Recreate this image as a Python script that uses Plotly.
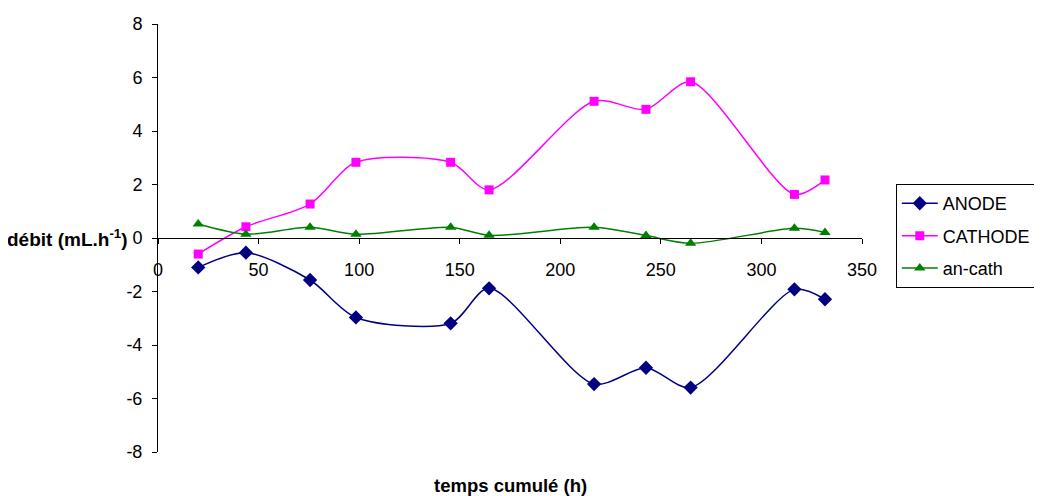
import plotly.graph_objects as go

temps = [20, 43.7, 75.6, 98.4, 145.5, 164.6, 216.8, 242.6, 264.8, 316.4, 331.6]
anode = [-1.10, -0.55, -1.57, -2.97, -3.19, -1.88, -5.46, -4.85, -5.59, -1.92, -2.29]
cathode = [-0.60, 0.42, 1.27, 2.83, 2.83, 1.80, 5.11, 4.81, 5.84, 1.63, 2.17]
an_cath = [0.52, 0.14, 0.40, 0.14, 0.40, 0.10, 0.40, 0.09, -0.20, 0.36, 0.21]

x_ticks = [0, 50, 100, 150, 200, 250, 300, 350]
y_ticks = [-8, -6, -4, -2, 0, 2, 4, 6, 8]

FONT = "Liberation Sans, Arial, sans-serif"

fig = go.Figure()
series = [
    ("ANODE", anode, "#000080", "diamond", 11),
    ("CATHODE", cathode, "#FF00FF", "square", 9),
    ("an-cath", an_cath, "#008000", "triangle-up", 10),
]
for name, vals, col, sym, ms in series:
    fig.add_trace(go.Scatter(
        x=temps, y=vals, name=name, legendgroup=name,
        mode="lines+markers",
        line=dict(color=col, width=1.5, shape="spline", smoothing=0.8),
        marker=dict(symbol=sym, size=ms, color=col),
    ))

# page body has an 8px margin, so the figure is offset by (8, 8)
fig.update_layout(
    width=1034, height=488,
    margin=dict(l=150, r=180, t=16, b=44, autoexpand=False),
    plot_bgcolor="white", paper_bgcolor="white",
    font=dict(family=FONT, size=18, color="black"),
    showlegend=True,
    legend=dict(
        x=1.048, y=0.626, xanchor="left", yanchor="top",
        bordercolor="black", borderwidth=1,
        font=dict(size=18), tracegroupgap=6, itemwidth=36,
        traceorder="grouped",
    ),
    xaxis=dict(
        range=[0, 350], tickvals=x_ticks, ticktext=[str(v) for v in x_ticks],
        showgrid=False, zeroline=False, automargin=False,
        showline=True, linecolor="black", linewidth=1,
        ticks="outside", ticklen=5, tickcolor="black",
        anchor="free", position=0.5,
        ticklabelstandoff=10,
    ),
    yaxis=dict(
        range=[-8, 8], tickvals=y_ticks, ticktext=[str(v) for v in y_ticks],
        showgrid=False, zeroline=False, automargin=False,
        showline=True, linecolor="black", linewidth=1,
        ticks="outside", ticklen=5, tickcolor="black",
        ticklabelstandoff=6,
    ),
    annotations=[
        dict(text="<b>débit (mL.h<sup>-1</sup>)</b>", xref="paper", yref="y",
             x=-0.04, y=0, xanchor="right", yanchor="middle",
             showarrow=False, font=dict(size=19)),
        dict(text="<b>temps cumulé (h)</b>", xref="paper", yref="paper",
             x=0.5, y=-0.0794, xanchor="center", yanchor="middle",
             showarrow=False, font=dict(size=18.5)),
    ],
)

fig.write_html("out.html")
